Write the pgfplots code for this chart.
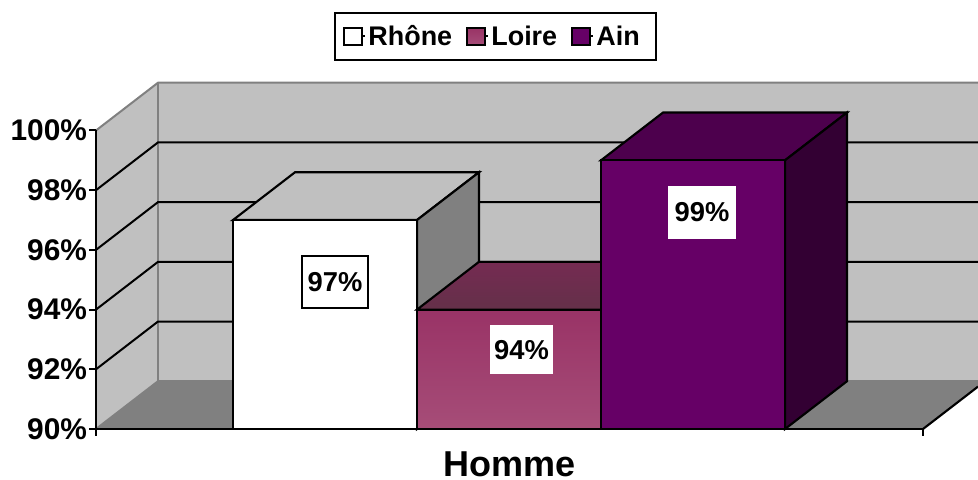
\documentclass[border=0pt]{standalone}
\usepackage{fontspec}
\setmainfont{Liberation Sans}
\usepackage{pgfplots}
\pgfplotsset{compat=1.18}
\definecolor{wall}{HTML}{C0C0C0}
\definecolor{floorgray}{HTML}{808080}
\definecolor{loiretop}{RGB}{153,51,102}
\definecolor{loirebot}{RGB}{166,77,120}
\definecolor{loirelidA}{RGB}{117,43,82}
\definecolor{loirelidB}{RGB}{100,48,73}
\definecolor{ainfront}{RGB}{102,0,102}
\definecolor{ainlid}{RGB}{77,0,77}
\definecolor{ainside}{RGB}{51,0,51}
\begin{document}
\begin{tikzpicture}
% page size: 978x479 px at 0.75pt per px
\useasboundingbox (0,0) rectangle (733.5pt,359.25pt);
\begin{axis}[
    at={(72pt,37.5pt)}, anchor=south west,
    scale only axis,
    width=620.25pt, height=223.9pt,
    xmin=96, xmax=923,
    ymin=90, ymax=100,
    clip=false,
    axis on top,
    axis lines=left,
    axis line style={-, black, line width=1.6pt},
    xtick={96,923}, xticklabels={},
    ytick={90,92,94,96,98,100},
    yticklabels={90\%,92\%,94\%,96\%,98\%,100\%},
    tick align=outside,
    major tick length=5pt,
    tick style={black, line width=1.5pt},
    yticklabel style={font=\fontsize{22.4}{23}\selectfont\bfseries, inner sep=0pt, xshift=-1.6pt},
    xlabel={Homme},
    xlabel style={font=\fontsize{27}{28}\selectfont\bfseries, at={(axis cs:509.5,88.82)}, anchor=center},
    legend style={at={(axis cs:495.5,103.15)}, anchor=center, draw=black, line width=1.5pt,
        font=\fontsize{20.2}{22}\selectfont\bfseries, legend columns=3,
        inner xsep=6pt, inner ysep=7.6pt,
        /tikz/every even column/.style={column sep=8pt}},
    legend cell align=left,
]
% walls and floor
\addplot[fill=wall, draw=none, forget plot] coordinates {(96,90) (158,91.6) (158,101.6) (96,100)} --cycle;
\addplot[fill=wall, draw=none, forget plot] coordinates {(158,91.6) (978,91.6) (978,101.6) (158,101.6)} --cycle;
\addplot[fill=floorgray, draw=none, forget plot] coordinates {(96,90) (923,90) (978,91.42) (978,91.6) (158,91.6)} --cycle;
\addplot[floorgray, line width=1.5pt, forget plot] coordinates {(96,100) (158,101.6) (978,101.6)};
\addplot[floorgray, line width=1.5pt, forget plot] coordinates {(158,101.6) (158,91.6)};
\addplot[floorgray, line width=1.5pt, forget plot] coordinates {(96,90) (158,91.6) (978,91.6)};
% gridlines
\addplot[black, line width=1.5pt, forget plot] coordinates {(96,92) (158,93.6) (978,93.6)};
\addplot[black, line width=1.5pt, forget plot] coordinates {(96,94) (158,95.6) (978,95.6)};
\addplot[black, line width=1.5pt, forget plot] coordinates {(96,96) (158,97.6) (978,97.6)};
\addplot[black, line width=1.5pt, forget plot] coordinates {(96,98) (158,99.6) (978,99.6)};
\addplot[black, line width=1.6pt, forget plot] coordinates {(923,90) (978,91.42)};
% Rhone
\addplot[fill=wall, draw=black, line width=1.6pt, forget plot] coordinates {(233,97) (295,98.6) (479,98.6) (417,97)} --cycle;
\addplot[fill=floorgray, draw=black, line width=1.6pt, forget plot] coordinates {(417,90) (479,91.6) (479,98.6) (417,97)} --cycle;
\addplot[fill=white, draw=black, line width=1.6pt,
    legend image code/.code={\path (0pt,0pt) -- (15.75pt,0pt); \draw[fill=white, draw=black, line width=1.5pt] (0pt,-6.5pt) rectangle (13.5pt,6.5pt);}]
    coordinates {(233,90) (233,97) (417,97) (417,90)} --cycle;
\addlegendentry{Rhône}
% Loire
\addplot[draw=black, line width=1.6pt, top color=loirelidA, bottom color=loirelidB, forget plot] coordinates {(417,94) (479,95.6) (663,95.6) (601,94)} --cycle;
\addplot[draw=black, line width=1.6pt, top color=loiretop, bottom color=loirebot,
    legend image code/.code={\path (0pt,0pt) -- (15.75pt,0pt); \draw[draw=black, line width=1.5pt, top color=loiretop, bottom color=loirebot] (0pt,-6.5pt) rectangle (13.5pt,6.5pt);}]
    coordinates {(417,90) (417,94) (601,94) (601,90)} --cycle;
\addlegendentry{Loire}
% Ain
\addplot[fill=ainlid, draw=black, line width=1.6pt, forget plot] coordinates {(601,99) (663,100.6) (847,100.6) (785,99)} --cycle;
\addplot[fill=ainside, draw=black, line width=1.6pt, forget plot] coordinates {(785,90) (847,91.6) (847,100.6) (785,99)} --cycle;
\addplot[fill=ainfront, draw=black, line width=1.6pt,
    legend image code/.code={\path (0pt,0pt) -- (15.75pt,0pt); \draw[fill=ainfront, draw=black, line width=1.5pt] (0pt,-6.5pt) rectangle (13.5pt,6.5pt);}]
    coordinates {(601,90) (601,99) (785,99) (785,90)} --cycle;
\addlegendentry{Ain\hspace{4.5pt}\null}
% value labels
\node[fill=white, draw=black, line width=1.5pt, minimum width=50pt, minimum height=39pt, inner sep=0pt, font=\fontsize{20.5}{22}\selectfont\bfseries] at (axis cs:335,94.91) {97\%};
\node[fill=white, minimum width=47pt, minimum height=37pt, inner sep=0pt, font=\fontsize{20.5}{22}\selectfont\bfseries] at (axis cs:521.5,92.66) {94\%};
\node[fill=white, minimum width=51pt, minimum height=40pt, inner sep=0pt, font=\fontsize{20.5}{22}\selectfont\bfseries] at (axis cs:702,97.25) {99\%};
\end{axis}
\end{tikzpicture}
\end{document}
